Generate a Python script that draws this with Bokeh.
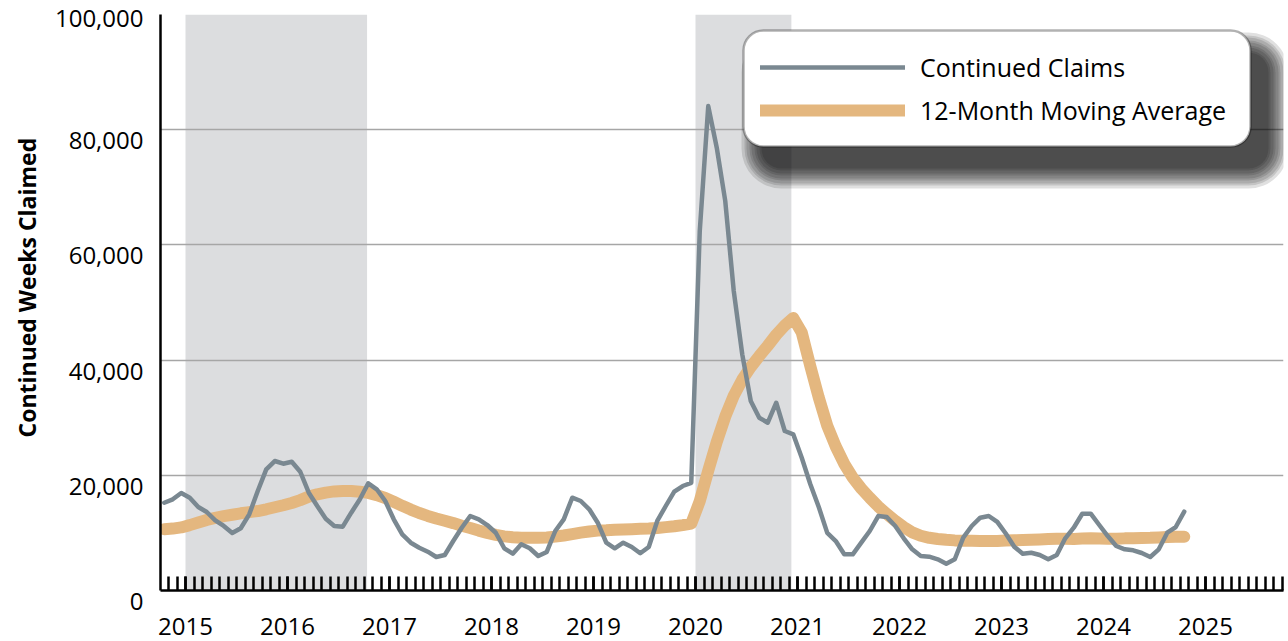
import pandas as pd
from bokeh.plotting import figure
from bokeh.models import (FixedTicker, BoxAnnotation, Legend, LegendItem, Title, Range1d)
from bokeh.embed import file_html
from bokeh.resources import INLINE

# ---------------- data ----------------
start_month = "2014-10"
claims = [15240, 15830, 16930, 16110, 14500, 13630, 12180, 11200, 9980, 10800,
          13230, 17270, 21040, 22480, 22010, 22360, 20620, 16980, 14670, 12470,
          11200, 11080, 13510, 15800, 18610, 17570, 15540, 12360, 9750, 8300,
          7430, 6740, 5820, 6160, 8590, 10900, 12930, 12360, 11370, 10030,
          7330, 6390, 8020, 7330, 5990, 6700, 10330, 12360, 16110, 15540,
          14100, 11770, 8300, 7330, 8300, 7550, 6460, 7550, 12070, 14670,
          17150, 18140, 18700, 62400, 84100, 76870, 67620, 52000, 41000, 32900,
          30000, 29130, 32600, 27690, 27120, 23050, 18500, 14500, 10000, 8590,
          6280, 6280, 8300, 10330, 12930, 12760, 11200, 9060, 7150, 5990,
          5870, 5420, 4650, 5420, 9170, 11200, 12640, 12930, 11900, 9900,
          7600, 6390, 6560, 6160, 5420, 6160, 9060, 10900, 13330, 13330,
          11370, 9460, 7730, 7150, 6980, 6510, 5820, 7150, 10030, 11020,
          13680]
moving_avg = [10650, 10750, 10950, 11350, 11800, 12250, 12600, 12900, 13150, 13400,
              13600, 13800, 14100, 14450, 14800, 15200, 15700, 16300, 16700, 17000,
              17200, 17270, 17270, 17150, 16950, 16550, 16050, 15400, 14700, 14050,
              13450, 12950, 12500, 12100, 11700, 11250, 10850, 10400, 10000, 9650,
              9400, 9250, 9150, 9150, 9150, 9200, 9350, 9550, 9800, 10050,
              10250, 10400, 10450, 10550, 10600, 10650, 10700, 10750, 10850, 11000,
              11150, 11350, 11600, 15500, 20800, 25800, 30200, 33800, 36600, 38800,
              40700, 42500, 44400, 46000, 47300, 44800, 39000, 33500, 28600, 25000,
              22000, 19600, 17700, 16100, 14600, 13300, 12100, 11000, 10100, 9500,
              9150, 8950, 8800, 8700, 8650, 8620, 8600, 8600, 8610, 8680,
              8720, 8750, 8810, 8870, 8930, 9000, 8990, 8960, 9020, 9050,
              9010, 8970, 8980, 9050, 9080, 9110, 9140, 9220, 9300, 9320,
              9340]
years = list(range(2015, 2026))
year_labels = [str(y) for y in years]
y_ticks = [0, 20000, 40000, 60000, 80000, 100000]
y_tick_labels = ["0", "20,000", "40,000", "60,000", "80,000", "100,000"]
shade_start = [2015.0, 2020.0]
shade_end = [2016.78, 2020.94]
series_names = ["Continued Claims", "12-Month Moving Average"]
y_title = "Continued Weeks Claimed"

# ---------------- styling ----------------
FONT = "Open Sans"
GREY = "#7a8891"
ORANGE = "#e4b77f"
BAND = "#dcdddf"
GRID = "#a6a6a6"

months = pd.period_range(start_month, periods=len(claims), freq="M")
t = [m.year + (m.month - 0.5) / 12 for m in months]

W, H = 1288, 641
FL, FR, FT, FB = 160, 1283, 14, 590          # frame edges on the canvas
PX_PER_YEAR = 102.0
X0 = 2015 - (185 - FL) / PX_PER_YEAR
X1 = X0 + (FR - FL) / PX_PER_YEAR
Y1 = 100000
XPX = (X1 - X0) / (FR - FL)
YPX = Y1 / (FB - FT)

p = figure(width=W, height=H, output_backend="svg", toolbar_location=None,
           x_range=Range1d(X0, X1), y_range=Range1d(0, Y1),
           min_border_left=FL, min_border_right=W - FR, min_border_top=FT,
           min_border_bottom=H - FB)
p.outline_line_color = None
p.background_fill_color = "white"
p.border_fill_color = "white"

# shaded periods
for s, e in zip(shade_start, shade_end):
    p.add_layout(BoxAnnotation(left=s, right=e, fill_color=BAND, fill_alpha=1.0,
                               line_color=None, level="image"))

# grid
p.xgrid.visible = False
p.ygrid.ticker = FixedTicker(ticks=y_ticks[1:])
p.ygrid.grid_line_color = GRID
p.ygrid.grid_line_width = 1.5

# x axis
month_ticks = [2014 + 10 / 12 + k / 12 for k in range(0, 12 * 12)]
xa = p.xaxis[0]
xa.ticker = FixedTicker(ticks=years, minor_ticks=month_ticks)
xa.major_label_overrides = {y: lab for y, lab in zip(years, year_labels)}
for pre in ("major", "minor"):
    setattr(xa, pre + "_tick_in", 14)
    setattr(xa, pre + "_tick_out", 0)
    setattr(xa, pre + "_tick_line_width", 2.5)
    setattr(xa, pre + "_tick_line_color", "black")
xa.axis_line_width = 2.5
xa.axis_line_color = "black"
xa.major_label_standoff = 27
xa.major_label_text_font = FONT
xa.major_label_text_font_size = "24px"
xa.major_label_text_color = "black"

# y axis (labels sit a little below their gridlines, as in the original;
# the top one is already held inside the canvas)
ya = p.yaxis[0]
ya.ticker = FixedTicker(ticks=y_ticks)
ya.major_label_overrides = {v: (lab if v == max(y_ticks) else "\n" + lab)
                            for v, lab in zip(y_ticks, y_tick_labels)}
ya.axis_line_width = 2.5
ya.axis_line_color = "black"
ya.major_tick_line_color = None
ya.minor_tick_line_color = None
ya.major_tick_in = 0
ya.major_tick_out = 0
ya.major_label_standoff = 17
ya.major_label_text_font = FONT
ya.major_label_text_font_size = "24px"
ya.major_label_text_color = "black"
ya.major_label_text_line_height = 0.6

p.add_layout(Title(text=y_title, align="left", offset=153, standoff=17,
                   text_font=FONT, text_font_style="bold", text_font_size="23px",
                   text_color="black"), "left")

# lines
r_ma = p.line(t, moving_avg, line_color=ORANGE, line_width=12,
              line_cap="round", line_join="round")
r_cl = p.line(t, claims, line_color=GREY, line_width=4.5,
              line_cap="round", line_join="round")

# legend box with shadow
def bx(px):
    return X0 + (px - FL) * XPX

def by(py):
    return (FB - py) * YPX

L, R, T, B = 743, 1250, 30, 146
for k in range(9):
    s = int(k * 2.5)
    p.add_layout(BoxAnnotation(left=bx(L + 18 - s), right=bx(R + 18 + s),
                               top=by(T + 22 - s), bottom=by(B + 22 + s),
                               fill_color="black", fill_alpha=0.12, line_color=None,
                               border_radius=20 + s))
p.add_layout(BoxAnnotation(left=bx(L), right=bx(R), top=by(T), bottom=by(B),
                           fill_color="white", fill_alpha=1.0, line_color="black",
                           line_width=2.5, border_radius=20))

legend = Legend(items=[LegendItem(label=series_names[0], renderers=[r_cl]),
                       LegendItem(label=series_names[1], renderers=[r_ma])],
                location=(760 - FL, FB - 127), margin=0, padding=0,
                glyph_width=145, glyph_height=34, label_height=34, spacing=9,
                label_standoff=15, label_text_font=FONT, label_text_font_size="25px",
                label_text_color="black",
                background_fill_alpha=0, border_line_alpha=0)
p.add_layout(legend)

open("out.html", "w").write(file_html(p, INLINE))
